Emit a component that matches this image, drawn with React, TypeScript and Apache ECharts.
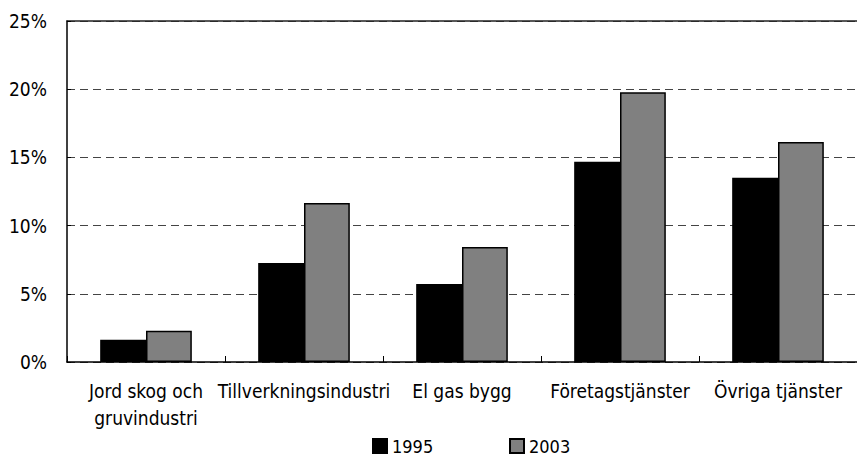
import React, { useEffect, useRef } from "react";
import * as echarts from "echarts";

const categories = [
  "Jord skog och\ngruvindustri",
  "Tillverkningsindustri",
  "El gas bygg",
  "Företagstjänster",
  "Övriga tjänster",
];
const series1995 = [1.63, 7.25, 5.71, 14.69, 13.51];
const series2003 = [2.29, 11.66, 8.44, 19.77, 16.13];
const seriesNames = ["1995", "2003"];

const FONT = "'DejaVu Sans Condensed', 'Liberation Sans Narrow', sans-serif";

export default function App() {
  const ref = useRef<HTMLDivElement>(null);
  useEffect(() => {
    if (!ref.current) return;
    const chart = echarts.init(ref.current, undefined, { renderer: "svg" });
    chart.setOption({
      animation: false,
      textStyle: { fontFamily: FONT },
      grid: { left: 67, top: 21, bottom: 95, right: -11, containLabel: false },
      legend: [
        {
          data: [seriesNames[0]],
          left: 372,
          top: 437,
          padding: 0,
          itemWidth: 14,
          itemHeight: 14,
          itemGap: 6,
          icon: "rect",
          textStyle: { fontFamily: FONT, fontSize: 18, lineHeight: 18, color: "#000" },
        },
        {
          data: [seriesNames[1]],
          left: 509,
          top: 437,
          padding: 0,
          itemWidth: 14,
          itemHeight: 14,
          itemGap: 6,
          icon: "rect",
          textStyle: { fontFamily: FONT, fontSize: 18, lineHeight: 18, color: "#000" },
        },
      ],
      xAxis: [
        {
          type: "category",
          data: categories,
          axisLine: { show: true, lineStyle: { color: "#000", width: 1.5 } },
          axisTick: { show: true, inside: true, length: 6, lineStyle: { color: "#000" } },
          axisLabel: {
            interval: 0,
            color: "#000",
            fontFamily: FONT,
            fontSize: 19,
            lineHeight: 27,
            margin: 15,
          },
        },
        {
          type: "category",
          data: categories,
          position: "top",
          axisLine: { show: true, lineStyle: { color: "#222", width: 1.5 } },
          axisTick: { show: false },
          axisLabel: { show: false },
        },
      ],
      yAxis: {
        type: "value",
        min: 0,
        max: 25,
        interval: 5,
        axisLine: { show: true, lineStyle: { color: "#000", width: 1.5 } },
        axisTick: { show: true, inside: true, length: 4, lineStyle: { color: "#000" } },
        axisLabel: {
          formatter: "{value}%",
          color: "#000",
          fontFamily: FONT,
          fontSize: 19,
          margin: 20,
        },
        splitLine: { show: true, lineStyle: { color: "#444", type: [8, 5], width: 1 } },
      },
      series: [
        {
          name: seriesNames[0],
          type: "bar",
          data: series1995,
          barGap: "0%",
          barCategoryGap: "42%",
          itemStyle: { color: "#000", borderColor: "#000", borderWidth: 1.5 },
        },
        {
          name: seriesNames[1],
          type: "bar",
          data: series2003,
          barGap: "0%",
          barCategoryGap: "42%",
          itemStyle: { color: "#808080", borderColor: "#000", borderWidth: 1.5 },
        },
      ],
    });
    return () => chart.dispose();
  }, []);
  return (
    <div
      ref={ref}
      style={{ position: "fixed", left: 0, top: 0, width: 857, height: 457, background: "#fff" }}
    />
  );
}
